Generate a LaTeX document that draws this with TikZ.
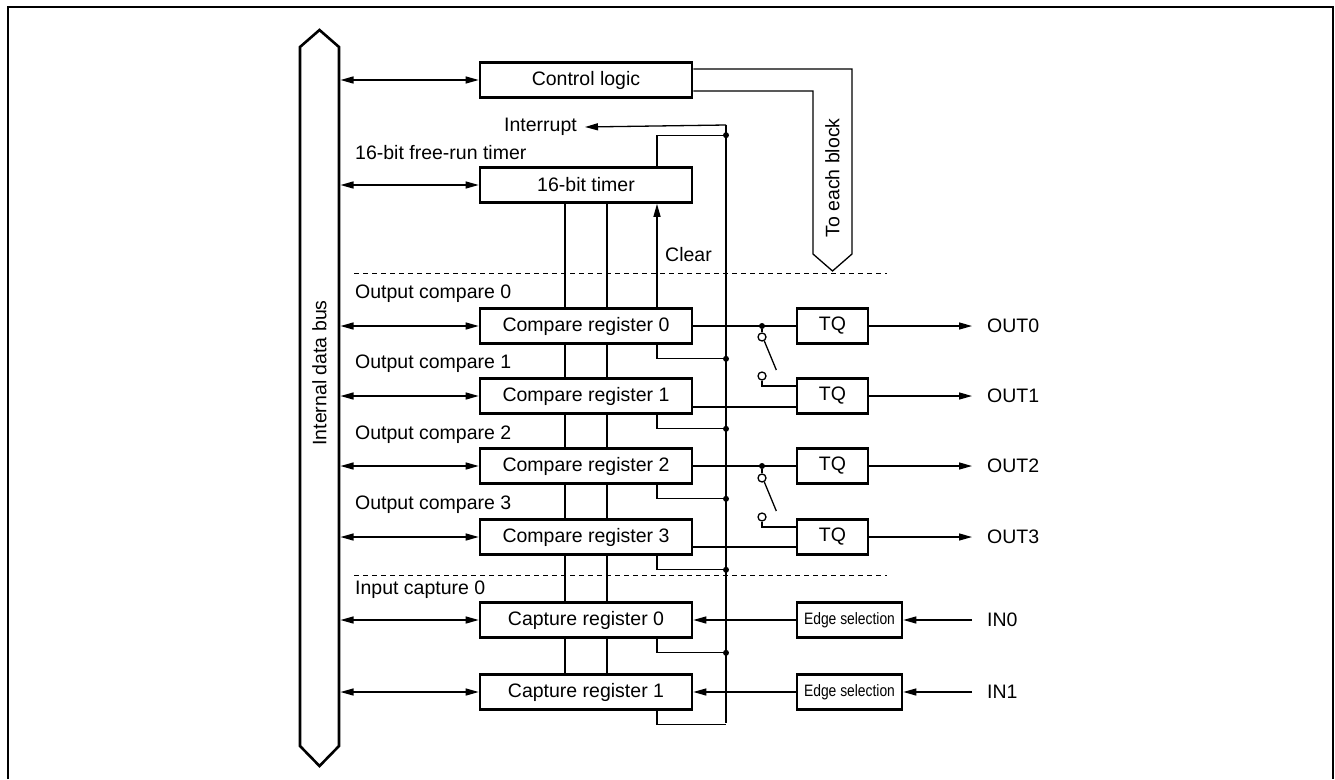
\documentclass[tikz,border=0pt]{standalone}
\usepackage{fontspec}
\setmainfont{Liberation Sans}
\usepackage{graphicx}
\usetikzlibrary{arrows.meta,backgrounds}

\tikzset{
  blk/.style={draw, line width=2.6pt, fill=white, minimum width=212pt, minimum height=35pt, inner sep=0pt},
  tqbox/.style={blk, minimum width=71pt},
  edgebox/.style={blk, minimum width=105pt},
  wire/.style={line width=1.3pt},
  arr/.style={wire, -{Triangle[length=13pt,width=7pt]}},
  darr/.style={wire, {Triangle[length=13pt,width=7pt]}-{Triangle[length=13pt,width=7pt]}},
  lbl/.style={anchor=west, inner sep=0pt},
  pin/.style={anchor=west, inner xsep=15pt, inner ysep=0pt},
  jdot/.style={circle, fill, inner sep=0pt, minimum size=6pt},
  swpin/.style={circle, draw, fill=white, line width=1.3pt, inner sep=0pt, minimum size=8pt},
  sep/.style={line width=1pt, dash pattern=on 5pt off 4pt},
}
\newcommand{\edgetxt}{\scalebox{0.84}[1]{\fontsize{16.5}{19}\selectfont Edge selection}}

\begin{document}
\begin{tikzpicture}[x=1pt, y=-1pt, font=\fontsize{19.5}{23}\selectfont]
  \useasboundingbox (0,0) rectangle (1335,779);
  \draw[line width=1.5pt] (8,779) -- (8,7) -- (1333,7) -- (1333,779);

  % Internal data bus
  \draw[line width=2.6pt, fill=white] (319.5,30) -- (339,47) -- (339,746) -- (319.5,766) -- (300,746) -- (300,47) -- cycle;
  \node[rotate=90] (busname) at (319.5,373) {Internal data bus};
  \coordinate (busR) at (340.5,0);

  % Register blocks
  \node[blk] (ctl)  at (586,80)  {Control logic};
  \node[blk] (tmr)  at (586,185) {16-bit timer};
  \node[blk] (cmp0) at (586,326) {Compare register 0};
  \node[blk] (cmp1) at (586,396) {Compare register 1};
  \node[blk] (cmp2) at (586,466) {Compare register 2};
  \node[blk] (cmp3) at (586,537) {Compare register 3};
  \node[blk] (cap0) at (586,620) {Capture register 0};
  \node[blk] (cap1) at (586,692) {Capture register 1};

  % Counter value lines behind the registers
  \begin{scope}[on background layer]
    \draw[wire] ([xshift=-21pt]tmr.south) -- ([xshift=-21pt]cap1.north);
    \draw[wire] ([xshift=21pt]tmr.south) -- ([xshift=21pt]cap1.north);
  \end{scope}

  % Section labels
  \node[lbl] (frt)  at (355,153) {16-bit free-run timer};
  \node[lbl] (oc0)  at (355,294) {Output compare 0};
  \node[lbl] (oc1)  at (355,364) {Output compare 1};
  \node[lbl] (oc2)  at (355,435) {Output compare 2};
  \node[lbl] (oc3)  at (355,505) {Output compare 3};
  \node[lbl] (ic0)  at (355,590) {Input capture 0};

  % Bus connections
  \foreach \b in {ctl,tmr,cmp0,cmp1,cmp2,cmp3,cap0,cap1}
    \draw[darr] (busR |- \b.west) -- (\b.west);

  % Separators
  \draw[sep] (354,273) -- (887,273);
  \draw[sep] (354,575) -- (887,575);

  % Interrupt rail
  \coordinate (railtop) at (726,125);
  \coordinate (railbot) at (726,723);
  \node[anchor=east, inner sep=0pt] (irq) at (577,127) {Interrupt};
  \draw[arr] (railtop) -- ([xshift=8pt]irq.east);
  \draw[wire] (railtop) -- (railbot);
  \draw[wire] ([xshift=71pt]tmr.north) -- ++(0,-31) coordinate (k) -- (k -| railtop) node[jdot] {};
  \foreach \r in {cmp0,cmp1,cmp2,cmp3,cap0}
    \draw[wire] ([xshift=71pt]\r.south) -- ++(0,14) coordinate (k) -- (k -| railtop) node[jdot] {};
  \draw[wire] ([xshift=71pt]cap1.south) -- ++(0,14) coordinate (k) -- (k -| railtop);

  % Clear
  \draw[arr] ([xshift=71pt]cmp0.north) -- ([xshift=71pt]tmr.south);
  \node[lbl] (clr) at (665,255) {Clear};

  % Control logic to each block
  \coordinate (fantip) at (832.5,271);
  \draw[wire] ([yshift=11pt]ctl.east) -- (852,69) -- (852,254) -- (fantip)
    -- (813,254) -- (813,91) -- ([yshift=-11pt]ctl.east);
  \node[rotate=90] (toeach) at (832.5,178) {To each block};

  % Toggle outputs
  \node[blk, tqbox] (tq0) at (832.5,326) {TQ};
  \node[blk, tqbox] (tq1) at (832.5,396) {TQ};
  \node[blk, tqbox] (tq2) at (832.5,466) {TQ};
  \node[blk, tqbox] (tq3) at (832.5,537) {TQ};

  \draw[wire] (cmp0.east) -- (tq0.west);
  \node[jdot] (j0) at (762,326) {};
  \node[swpin] (s0a) at (762,337) {};
  \node[swpin] (s0b) at (762,376) {};
  \draw[wire] (j0) -- (s0a);
  \draw[wire] (s0a.-60) -- ++(12,29);
  \draw[wire] (s0b.south) |- ([yshift=10pt]tq1.west);
  \draw[wire] ([yshift=-11pt]cmp1.east) -- ([yshift=-11pt]tq1.west);

  \draw[wire] (cmp2.east) -- (tq2.west);
  \node[jdot] (j2) at (762,466) {};
  \node[swpin] (s2a) at (762,478) {};
  \node[swpin] (s2b) at (762,517) {};
  \draw[wire] (j2) -- (s2a);
  \draw[wire] (s2a.-60) -- ++(12,29);
  \draw[wire] (s2b.south) |- ([yshift=10pt]tq3.west);
  \draw[wire] ([yshift=-10pt]cmp3.east) -- ([yshift=-10pt]tq3.west);

  \node[pin] (out0) at (972,326) {OUT0};
  \node[pin] (out1) at (972,396) {OUT1};
  \node[pin] (out2) at (972,466) {OUT2};
  \node[pin] (out3) at (972,537) {OUT3};
  \foreach \i in {0,1,2,3}
    \draw[arr] (tq\i.east) -- (out\i.west);

  % Input capture
  \node[blk, edgebox] (es0) at (849.5,620) {\edgetxt};
  \node[blk, edgebox] (es1) at (849.5,692) {\edgetxt};
  \node[pin] (in0) at (972,620) {IN0};
  \node[pin] (in1) at (972,692) {IN1};
  \draw[arr] (in0.west) -- (es0.east);
  \draw[arr] (in1.west) -- (es1.east);
  \draw[arr] (es0.west) -- (cap0.east);
  \draw[arr] (es1.west) -- (cap1.east);
\end{tikzpicture}
\end{document}
